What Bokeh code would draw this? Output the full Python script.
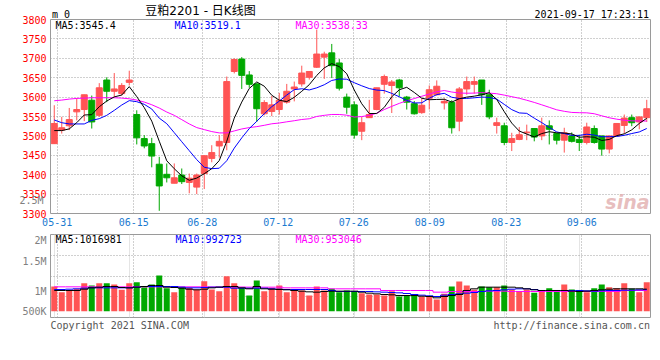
from bokeh.plotting import figure
from bokeh.models import Range1d, FixedTicker, Label, Grid, LinearAxis
from bokeh.layouts import column
from bokeh.embed import file_html
from bokeh.resources import INLINE

# ---------------- data ----------------
open_ = [3480, 3515, 3526, 3562, 3568, 3592, 3553, 3644, 3615, 3609,
         3638, 3555, 3493, 3480, 3427, 3401, 3378, 3399, 3380, 3368,
         3403, 3442, 3474, 3483, 3666, 3698, 3657, 3634, 3557, 3563,
         3568, 3587, 3621, 3634, 3651, 3677, 3703, 3714, 3688, 3600,
         3580, 3512, 3547, 3568, 3633, 3630, 3644, 3600, 3583, 3560,
         3597, 3606, 3585, 3586, 3538, 3621, 3633, 3644, 3606, 3527,
         3526, 3483, 3491, 3508, 3519, 3500, 3526, 3506, 3489, 3500,
         3491, 3483, 3519, 3500, 3466, 3500, 3527, 3547, 3536, 3547]
high = [3579, 3549, 3572, 3597, 3606, 3604, 3636, 3651, 3662, 3636,
        3668, 3566, 3502, 3495, 3446, 3429, 3429, 3416, 3403, 3403,
        3449, 3476, 3502, 3653, 3700, 3703, 3667, 3636, 3592, 3603,
        3611, 3634, 3640, 3681, 3666, 3774, 3717, 3737, 3698, 3609,
        3589, 3549, 3593, 3624, 3658, 3644, 3647, 3603, 3590, 3597,
        3630, 3643, 3597, 3592, 3626, 3653, 3653, 3644, 3619, 3547,
        3534, 3508, 3523, 3529, 3519, 3547, 3540, 3508, 3521, 3509,
        3503, 3534, 3527, 3500, 3500, 3532, 3555, 3555, 3549, 3593]
low = [3480, 3506, 3515, 3540, 3538, 3519, 3549, 3587, 3600, 3604,
       3630, 3478, 3468, 3419, 3307, 3380, 3378, 3376, 3352, 3350,
       3363, 3432, 3444, 3463, 3661, 3621, 3624, 3536, 3553, 3551,
       3555, 3583, 3589, 3627, 3645, 3675, 3647, 3649, 3617, 3557,
       3493, 3489, 3547, 3566, 3609, 3559, 3602, 3568, 3555, 3557,
       3568, 3604, 3568, 3506, 3512, 3606, 3609, 3580, 3543, 3506,
       3476, 3461, 3489, 3489, 3486, 3489, 3478, 3478, 3457, 3483,
       3461, 3478, 3480, 3449, 3455, 3500, 3506, 3525, 3517, 3536]
close = [3532, 3521, 3542, 3568, 3606, 3536, 3624, 3615, 3621, 3630,
         3644, 3495, 3474, 3448, 3371, 3392, 3392, 3382, 3391, 3399,
         3449, 3457, 3486, 3640, 3697, 3656, 3633, 3570, 3586, 3580,
         3592, 3615, 3626, 3662, 3666, 3711, 3711, 3681, 3623, 3574,
         3502, 3534, 3555, 3624, 3653, 3639, 3624, 3587, 3557, 3579,
         3619, 3628, 3589, 3521, 3621, 3640, 3640, 3606, 3549, 3534,
         3483, 3493, 3503, 3510, 3497, 3526, 3517, 3489, 3508, 3486,
         3483, 3523, 3483, 3466, 3500, 3532, 3546, 3534, 3549, 3570]
ma5 = [3513.7, 3513.7, 3518.0, 3534.2, 3553.9, 3554.7, 3575.2, 3589.9, 3600.5, 3605.3,
       3627.0, 3601.2, 3572.8, 3538.1, 3486.3, 3435.9, 3415.4, 3397.1, 3385.6, 3391.3,
       3402.5, 3415.5, 3436.4, 3486.3, 3545.8, 3587.2, 3622.2, 3639.0, 3628.1, 3604.8,
       3592.0, 3588.4, 3599.5, 3614.9, 3632.0, 3655.9, 3675.2, 3686.3, 3678.5, 3660.2,
       3618.3, 3582.9, 3557.6, 3557.8, 3573.5, 3600.9, 3618.8, 3625.3, 3612.0, 3597.1,
       3593.2, 3594.0, 3594.4, 3587.2, 3595.7, 3600.0, 3602.4, 3605.8, 3611.3, 3593.9,
       3562.4, 3533.0, 3512.5, 3504.8, 3497.4, 3506.0, 3510.8, 3507.9, 3507.3, 3505.1,
       3496.6, 3497.8, 3496.6, 3488.2, 3490.9, 3500.7, 3505.3, 3515.6, 3532.1, 3545.4]
ma10 = [3541.0, 3534.0, 3530.8, 3530.8, 3530.8, 3540.0, 3544.4, 3553.0, 3565.8, 3579.6,
        3590.9, 3588.2, 3581.4, 3569.3, 3545.8, 3531.5, 3508.3, 3485.0, 3461.9, 3438.8,
        3419.2, 3415.5, 3416.7, 3436.0, 3468.5, 3494.9, 3518.9, 3537.7, 3557.2, 3575.3,
        3589.6, 3605.3, 3619.2, 3621.5, 3618.4, 3623.9, 3631.8, 3642.9, 3646.7, 3646.1,
        3637.1, 3629.1, 3622.0, 3618.1, 3616.8, 3609.6, 3600.9, 3591.5, 3584.9, 3585.3,
        3597.0, 3606.4, 3609.8, 3599.6, 3596.4, 3596.6, 3598.2, 3600.1, 3599.2, 3594.8,
        3581.2, 3567.7, 3559.2, 3558.1, 3545.7, 3534.2, 3521.9, 3510.2, 3506.1, 3501.3,
        3501.3, 3504.3, 3502.2, 3497.8, 3498.0, 3498.6, 3501.5, 3506.1, 3510.2, 3519.1]
ma30 = [3590.6, 3592.3, 3594.9, 3596.6, 3597.4, 3598.3, 3598.3, 3598.3, 3598.3, 3597.4,
        3595.7, 3592.3, 3587.2, 3580.3, 3571.8, 3561.5, 3553.0, 3541.9, 3530.8, 3521.4,
        3516.2, 3511.1, 3507.7, 3507.7, 3512.8, 3517.9, 3521.4, 3523.9, 3527.3, 3531.2,
        3533.2, 3536.3, 3539.1, 3542.3, 3544.2, 3550.1, 3553.0, 3555.2, 3555.2, 3553.4,
        3548.6, 3549.9, 3552.7, 3558.5, 3567.9, 3576.1, 3583.8, 3590.7, 3596.2, 3602.2,
        3607.9, 3613.6, 3617.0, 3613.1, 3610.5, 3610.0, 3610.3, 3611.5, 3610.3, 3608.7,
        3605.1, 3601.1, 3597.0, 3591.9, 3586.3, 3580.1, 3573.7, 3567.2, 3563.4, 3560.5,
        3559.8, 3559.5, 3557.1, 3551.8, 3546.7, 3543.1, 3540.5, 3538.8, 3538.5, 3538.3]
volume = [1138000, 877000, 954000, 1031000, 1292000, 1184000, 1292000, 1292000, 1230000, 985000,
          1292000, 1338000, 1108000, 1230000, 1645000, 1061000, 877000, 1108000, 1077000, 1000000,
          1384000, 1000000, 923000, 1614000, 1292000, 1077000, 724000, 1415000, 923000, 1077000,
          1184000, 877000, 985000, 954000, 724000, 1138000, 954000, 1031000, 877000, 954000,
          923000, 831000, 770000, 770000, 724000, 923000, 677000, 724000, 724000, 677000,
          677000, 539000, 800000, 1138000, 1369000, 1184000, 985000, 1138000, 1108000, 1108000,
          1184000, 1000000, 908000, 1000000, 846000, 954000, 1061000, 908000, 1230000, 1000000,
          954000, 877000, 1061000, 1230000, 1108000, 1061000, 1292000, 1031000, 877000, 1338000]
vma5 = [954000, 954000, 954000, 954000, 1015000, 1077000, 1108000, 1138000, 1138000, 1092000,
        1077000, 1108000, 1138000, 1184000, 1184000, 1108000, 1092000, 1061000, 1015000, 985000,
        1015000, 1077000, 1108000, 1138000, 1138000, 1077000, 1031000, 1138000, 1031000, 1015000,
        1000000, 985000, 954000, 923000, 892000, 877000, 908000, 923000, 923000, 923000,
        923000, 877000, 831000, 800000, 770000, 754000, 724000, 724000, 724000, 693000,
        677000, 616000, 677000, 724000, 770000, 954000, 1031000, 1108000, 1108000, 1108000,
        1108000, 1108000, 1077000, 1031000, 985000, 954000, 954000, 954000, 954000, 923000,
        908000, 923000, 954000, 985000, 1015000, 1031000, 1031000, 1031000, 1031000, 1016981]
vma10 = [1000000, 1000000, 1015000, 1031000, 1061000, 1077000, 1077000, 1077000, 1077000, 1077000,
         1077000, 1108000, 1138000, 1138000, 1138000, 1138000, 1138000, 1108000, 1077000, 1077000,
         1092000, 1108000, 1108000, 1108000, 1061000, 1061000, 1061000, 1061000, 1061000, 1031000,
         1015000, 1000000, 1000000, 1000000, 1000000, 1000000, 1000000, 954000, 908000, 908000,
         908000, 908000, 908000, 892000, 877000, 862000, 846000, 816000, 770000, 739000,
         708000, 677000, 739000, 770000, 800000, 831000, 862000, 908000, 939000, 954000,
         985000, 1015000, 1031000, 1031000, 1000000, 954000, 954000, 954000, 954000, 954000,
         954000, 939000, 923000, 939000, 954000, 954000, 969000, 969000, 985000, 992723]
vma30 = [1123000, 1123000, 1123000, 1123000, 1123000, 1123000, 1123000, 1123000, 1123000, 1123000,
         1123000, 1123000, 1123000, 1123000, 1123000, 1123000, 1123000, 1123000, 1123000, 1123000,
         1123000, 1115000, 1115000, 1115000, 1115000, 1115000, 1108000, 1108000, 1108000, 1108000,
         1108000, 1077000, 1077000, 1077000, 1077000, 1077000, 1077000, 1031000, 1031000, 1031000,
         1031000, 1031000, 1031000, 1031000, 954000, 954000, 954000, 954000, 954000, 954000,
         954000, 877000, 877000, 908000, 908000, 908000, 908000, 908000, 923000, 923000,
         923000, 908000, 908000, 908000, 908000, 908000, 908000, 908000, 908000, 908000,
         908000, 908000, 908000, 908000, 908000, 908000, 954000, 954000, 954000, 953046]
tick_labels = ["05-31", "06-15", "06-28", "07-12", "07-26", "08-09", "08-23", "09-06"]
tick_pos = [0.39, 10.61, 19.73, 29.86, 39.94, 50.07, 60.26, 70.34]
price_ticks = list(range(3300, 3801, 50))

# ---------------- styles / geometry ----------------
MONO = "DejaVu Sans Mono"
TITLE_FONT = "DejaVu Sans, Noto Sans CJK SC"
UP, DOWN = "#ff5454", "#00a800"
GRID = "#a0a0a0"
FRAME = "#9a9a9a"
n = len(close)
xs = list(range(n))
colors = [UP if c >= o else DOWN for o, c in zip(open_, close)]
btop = [max(o, c) for o, c in zip(open_, close)]
bbot = [min(o, c) for o, c in zip(open_, close)]

# page-pixel helpers for text placement (frame x: 50..650, price frame y: 18..213)
def px_x(px):
    return (px - 50) / 7.5 - 0.5

def px_y1(py):
    return 3300 + (213 - py) * 500 / 195

VOL_PX = 1e6 / 21.7   # volume units per pixel
VOL_BASE_Y = 310.7    # page y of the bars' baseline

def px_y2(py):
    return (VOL_BASE_Y - py) * VOL_PX

def label(fig, yconv, px, py, text, color="black", size="10px", align="left",
          font=MONO, style="normal", alpha=1.0):
    fig.add_layout(Label(x=px_x(px), y=yconv(py), text=text, text_color=color,
                         text_font=font, text_font_size=size, text_align=align,
                         text_baseline="alphabetic", text_font_style=style,
                         text_alpha=alpha))

def style_axis(ax, color, standoff, size="10px", font=MONO):
    ax.axis_line_color = None
    ax.major_tick_line_color = None
    ax.minor_tick_line_color = None
    ax.major_tick_out = 0
    ax.major_tick_in = 0
    ax.minor_tick_out = 0
    ax.minor_tick_in = 0
    ax.major_label_text_font = font
    ax.major_label_text_font_size = size
    ax.major_label_text_color = color
    ax.major_label_standoff = standoff

def text_axis(ticks, texts, color, size, standoff, font=MONO):
    ax = LinearAxis(ticker=FixedTicker(ticks=ticks),
                    major_label_overrides=dict(zip(ticks, texts)))
    style_axis(ax, color, standoff, size, font)
    return ax

# ---------------- price panel ----------------
p = figure(width=660, height=234, x_range=Range1d(-0.5, n - 0.5),
           y_range=Range1d(3300, 3800), output_backend="svg",
           toolbar_location=None, min_border_left=50, min_border_right=10,
           min_border_top=18, min_border_bottom=21,
           background_fill_color="white", border_fill_color="white",
           outline_line_color=FRAME, outline_line_width=1)
p.title.visible = False

p.xaxis.ticker = FixedTicker(ticks=tick_pos)
p.xaxis.major_label_overrides = dict(zip(tick_pos, tick_labels))
style_axis(p.xaxis[0], "#1a7ad0", 4)
p.yaxis.ticker = FixedTicker(ticks=price_ticks)
style_axis(p.yaxis[0], "#ff0000", 4)

# volume label that Sina prints inside the price panel's label column
vol_25 = [px_y1(199.5)]
p.add_layout(text_axis(vol_25, ["2.5M"], "#808080", "10px", -24), "left")

# header: title (inner) and "m 0" + time stamp (outer)
p.add_layout(text_axis([px_x(200)], ["豆粕2201 - 日K线图"], "#000000", "12px",
                       2, font=TITLE_FONT), "above")
hdr_ticks = [px_x(60.5), px_x(591.3)]
p.add_layout(text_axis(hdr_ticks, ["m 0", "2021-09-17 17:23:11"], "#000000",
                       "10px", -19), "above")

p.xgrid.ticker = FixedTicker(ticks=tick_pos)
p.ygrid.ticker = FixedTicker(ticks=price_ticks)
for g in (p.xgrid, p.ygrid):
    g.grid_line_color = GRID
    g.grid_line_dash = "1 2"
    g.grid_line_width = 1

p.segment(x0=xs, y0=low, x1=xs, y1=high, line_color=colors, line_width=1)
p.vbar(x=xs, width=0.8, top=btop, bottom=bbot, fill_color=colors,
       line_color=colors, line_width=1)
p.line(xs, ma30, line_color="#ff00ff", line_width=1)
p.line(xs, ma10, line_color="#0000ff", line_width=1)
p.line(xs, ma5, line_color="#000000", line_width=1)

label(p, px_y1, 55, 24.3, "MA5:3545.4", color="#000000")
label(p, px_y1, 174, 24.3, "MA10:3519.1", color="#0000ff")
label(p, px_y1, 295, 24.3, "MA30:3538.33", color="#ff00ff")
label(p, px_y1, 649, 201, "sina", color="#e3b3b3", size="19px", align="right",
      font="DejaVu Sans", style="bold italic", alpha=0.85)

# ---------------- volume panel ----------------
vol_lo = -(317 - VOL_BASE_Y) * VOL_PX
vol_hi = (VOL_BASE_Y - 234) * VOL_PX
p2 = figure(width=660, height=106, x_range=p.x_range,
            y_range=Range1d(vol_lo, vol_hi), output_backend="svg",
            toolbar_location=None, min_border_left=50, min_border_right=10,
            min_border_top=0, min_border_bottom=23, x_axis_location=None,
            background_fill_color="white", border_fill_color="white",
            outline_line_color=FRAME, outline_line_width=1)
p2.title.visible = False

vol_label_pos = [px_y2(234.6), px_y2(261), px_y2(291), px_y2(310.7)]
vol_label_txt = ["2M", "1.5M", "1M", "500K"]
p2.yaxis.ticker = FixedTicker(ticks=vol_label_pos)
p2.yaxis.major_label_overrides = dict(zip(vol_label_pos, vol_label_txt))
style_axis(p2.yaxis[0], "#808080", 4)
p2.ygrid.ticker = FixedTicker(ticks=[px_y2(255), px_y2(275.7), px_y2(295.7)])
p2.ygrid.grid_line_color = GRID
p2.ygrid.grid_line_dash = "1 2"
p2.add_layout(Grid(dimension=0, ticker=FixedTicker(ticks=tick_pos),
                   grid_line_color=GRID, grid_line_dash="1 2"))

# footer texts
foot_ticks = [px_x(119.2), px_x(571.2)]
p2.add_layout(text_axis(foot_ticks, ["Copyright 2021 SINA.COM",
                                     "http://finance.sina.com.cn"],
                        "#555555", "10px", 2), "below")

p2.vbar(x=xs, width=0.8, top=volume, bottom=0, fill_color=colors,
        line_color=None)
p2.step(xs, vma30, mode="center", line_color="#ff00ff", line_width=1)
p2.step(xs, vma10, mode="center", line_color="#0000ff", line_width=1)
p2.step(xs, vma5, mode="center", line_color="#000000", line_width=1)

label(p2, px_y2, 55, 238.7, "MA5:1016981", color="#000000")
label(p2, px_y2, 175, 238.7, "MA10:992723", color="#0000ff")
label(p2, px_y2, 295, 238.7, "MA30:953046", color="#ff00ff")

layout = column(p, p2, spacing=0)
open("out.html", "w").write(file_html(layout, INLINE))
